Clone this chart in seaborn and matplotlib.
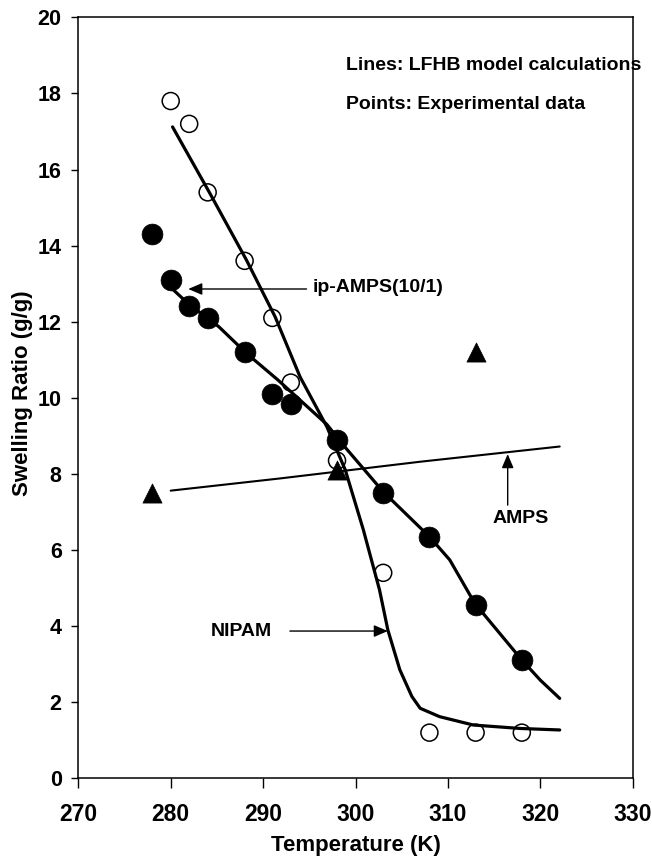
import matplotlib
matplotlib.use("Agg")
import matplotlib.pyplot as plt
import seaborn as sns
import pandas as pd

# ---- data ----
nipam_T = [280, 282, 284, 288, 291, 293, 298, 303, 308, 313, 318]
nipam_S = [17.8, 17.2, 15.4, 13.6, 12.1, 10.4, 8.35, 5.4, 1.2, 1.2, 1.2]

ipamps_T = [278, 280, 282, 284, 288, 291, 293, 298, 303, 308, 313, 318]
ipamps_S = [14.3, 13.1, 12.4, 12.1, 11.2, 10.1, 9.85, 8.9, 7.5, 6.35, 4.55, 3.1]

amps_T = [278, 298, 313]
amps_S = [7.5, 8.1, 11.2]

nipam_line_T = [280.2, 284.25, 288.2, 291.3, 294.0, 296.9, 298.9, 300.85, 302.6,
                303.5, 304.8, 306.1, 307.0, 309.1, 312.75, 317.8, 322.1]
nipam_line_S = [17.12, 15.37, 13.62, 12.13, 10.55, 9.24, 8.10, 6.53, 4.95,
                3.90, 2.85, 2.15, 1.84, 1.62, 1.40, 1.31, 1.27]

ipamps_line_T = [280.1, 282.0, 285.2, 288.2, 291.6, 296.9, 298.7, 303.0, 308.0,
                 310.2, 312.9, 318.0, 320.0, 322.1]
ipamps_line_S = [12.88, 12.45, 11.87, 11.17, 10.47, 9.30, 8.75, 7.53, 6.35,
                 5.74, 4.60, 3.11, 2.58, 2.10]

amps_line_T = [280.0, 291.8, 307.0, 322.1]
amps_line_S = [7.56, 7.88, 8.32, 8.72]

x_ticks = [270, 280, 290, 300, 310, 320, 330]
y_ticks = [0, 2, 4, 6, 8, 10, 12, 14, 16, 18, 20]

# ---- style ----
sns.set_theme(style="ticks")
plt.rcParams["font.family"] = ["Liberation Sans", "DejaVu Sans"]
plt.rcParams["font.weight"] = "bold"
plt.rcParams["text.color"] = "black"
plt.rcParams["axes.labelcolor"] = "black"
plt.rcParams["xtick.color"] = "black"
plt.rcParams["ytick.color"] = "black"

fig = plt.figure(figsize=(6.52, 8.58), dpi=100)
ax = fig.add_axes([0.1201, 0.0929, 0.9704 - 0.1201, 0.9798 - 0.0929])

pts_nipam = pd.DataFrame({"T": nipam_T, "S": nipam_S})
pts_ip = pd.DataFrame({"T": ipamps_T, "S": ipamps_S})
pts_amps = pd.DataFrame({"T": amps_T, "S": amps_S})
ln_nipam = pd.DataFrame({"T": nipam_line_T, "S": nipam_line_S})
ln_ip = pd.DataFrame({"T": ipamps_line_T, "S": ipamps_line_S})
ln_amps = pd.DataFrame({"T": amps_line_T, "S": amps_line_S})

sns.lineplot(data=ln_nipam, x="T", y="S", ax=ax, color="black", lw=2.3,
             sort=False, estimator=None, zorder=2)
sns.lineplot(data=ln_ip, x="T", y="S", ax=ax, color="black", lw=2.3,
             sort=False, estimator=None, zorder=2)
sns.lineplot(data=ln_amps, x="T", y="S", ax=ax, color="black", lw=1.5,
             sort=False, estimator=None, zorder=2)

sns.scatterplot(data=pts_nipam, x="T", y="S", ax=ax, marker="o", s=150,
                facecolor="none", edgecolor="black", linewidth=1.1, zorder=3)
sns.scatterplot(data=pts_ip, x="T", y="S", ax=ax, marker="o", s=225,
                color="black", edgecolor="black", linewidth=0.5, zorder=4)
sns.scatterplot(data=pts_amps, x="T", y="S", ax=ax, marker="^", s=190,
                color="black", edgecolor="black", linewidth=0.5, zorder=5)

ax.set_xlim(270, 330)
ax.set_ylim(0, 20)
ax.set_xticks(x_ticks)
ax.set_yticks(y_ticks)
ax.set_xticklabels([str(v) for v in x_ticks], fontsize=16.5, fontweight="bold",
                   color="black")
ax.set_yticklabels([str(v) for v in y_ticks], fontsize=15.5, fontweight="bold",
                   color="black")
ax.tick_params(axis="x", direction="out", length=7, width=1, pad=11, colors="black")
ax.tick_params(axis="y", direction="out", length=5, width=1, pad=7, colors="black")
for sp in ax.spines.values():
    sp.set_visible(True)
    sp.set_color("black")
    sp.set_linewidth(1.1)

ax.set_xlabel("Temperature (K)", fontsize=16, fontweight="bold", color="black")
ax.set_ylabel("Swelling Ratio (g/g)", fontsize=16, fontweight="bold", color="black")
ax.xaxis.set_label_coords(0.5, -0.0745)
ax.yaxis.set_label_coords(-0.082, 0.506)

# annotations
ax.text(299.0, 18.73, "Lines: LFHB model calculations", fontsize=14,
        fontweight="bold", ha="left", va="center", clip_on=False, color="black")
ax.text(299.0, 17.72, "Points: Experimental data", fontsize=14,
        fontweight="bold", ha="left", va="center", color="black")

arrow = dict(arrowstyle="-|>,head_length=0.7,head_width=0.3", color="black",
             lw=1.0, shrinkA=0, shrinkB=0)
ax.annotate("", xy=(281.9, 12.86), xytext=(294.7, 12.86), arrowprops=arrow)
ax.text(295.4, 12.89, "ip-AMPS(10/1)", fontsize=14, fontweight="bold",
        ha="left", va="center", color="black")

ax.annotate("", xy=(316.47, 8.52), xytext=(316.47, 7.18), arrowprops=arrow)
ax.text(317.86, 6.83, "AMPS", fontsize=14, fontweight="bold",
        ha="center", va="center", color="black")

ax.annotate("", xy=(303.5, 3.87), xytext=(292.9, 3.87), arrowprops=arrow)
ax.text(287.6, 3.85, "NIPAM", fontsize=14, fontweight="bold",
        ha="center", va="center", color="black")

fig.savefig("out.png", dpi=100)
